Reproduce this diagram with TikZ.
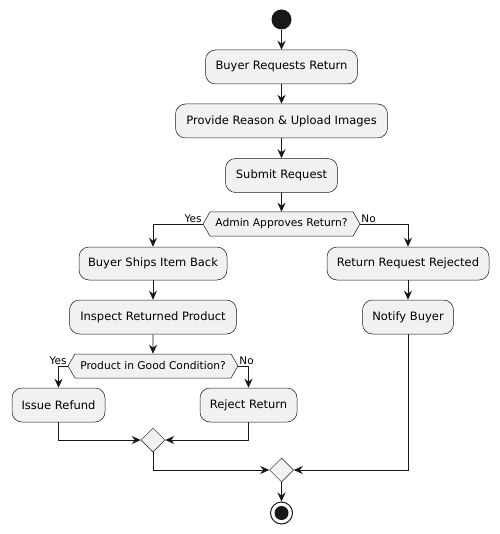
\documentclass[tikz,border=0pt]{standalone}
\usepackage{fontspec}
\setmainfont{DejaVu Sans}
\usetikzlibrary{arrows.meta,shapes.symbols,shapes.geometric}
\definecolor{bfill}{HTML}{F1F1F1}
\definecolor{bline}{HTML}{181818}
\begin{document}
\begin{tikzpicture}[x=1pt,y=-1pt,
  act/.style={draw=bline, line width=0.5pt, fill=bfill, rounded corners=10pt, minimum height=34pt, inner sep=0pt, font=\fontsize{11.5}{13}\selectfont},
  dec/.style={signal, signal to=west and east, signal pointer angle=120, draw=bline, fill=bfill, line width=0.5pt, minimum height=24pt, inner sep=0pt, font=\fontsize{10.7}{12}\selectfont},
  merge/.style={diamond, draw=bline, fill=bfill, line width=0.5pt, minimum size=24pt, inner sep=0pt},
  flow/.style={draw=bline, line width=0.8pt, -{Stealth[length=9pt,width=8pt,inset=3pt]}},
  lbl/.style={font=\fontsize{10.5}{12}\selectfont, inner sep=1pt}]
\useasboundingbox (0,0) rectangle (499,534);
\node[circle, fill=bline, minimum size=20pt, inner sep=0pt] (start) at (281.5,19.5) {};
\node[act, minimum width=152pt] (b1) at (281.5,67) {Buyer Requests Return};
\node[act, minimum width=212pt] (b2) at (281.5,121) {Provide Reason \& Upload Images};
\node[act, minimum width=112pt] (b3) at (281.5,175.5) {Submit Request};
\node[dec, minimum width=157pt] (d1) at (281.5,224) {Admin Approves Return?};
\node[act, minimum width=148pt, minimum height=33pt] (b4) at (153,263.5) {Buyer Ships Item Back};
\node[act, minimum width=167pt] (b5) at (153,317) {Inspect Returned Product};
\node[act, minimum width=162pt, minimum height=33pt] (b6) at (408,263.5) {Return Request Rejected};
\node[act, minimum width=91pt] (b7) at (408,317) {Notify Buyer};
\node[dec, minimum width=170pt] (d2) at (153,366) {Product in Good Condition?};
\node[act, minimum width=93pt] (b8) at (58.5,405) {Issue Refund};
\node[act, minimum width=97pt] (b9) at (248.5,405) {Reject Return};
\node[merge] (m1) at (153,440) {};
\node[merge] (m2) at (281.5,470) {};
\node[circle, draw=bline, line width=1pt, fill=white, minimum size=22pt, inner sep=0pt] (end) at (281.5,513) {};
\fill[bline] (end.center) circle[radius=7pt];
\node[lbl, anchor=south east] (y1) at (d1.west) {Yes};
\node[lbl, anchor=south west] (n1) at (d1.east) {No};
\node[lbl, anchor=south east] (y2) at (d2.west) {Yes};
\node[lbl, anchor=south west] (n2) at (d2.east) {No};
\draw[flow] (start) -- (b1);
\draw[flow] (b1) -- (b2);
\draw[flow] (b2) -- (b3);
\draw[flow] (b3) -- (d1);
\draw[flow] (d1.west) -| (b4.north);
\draw[flow] (d1.east) -| (b6.north);
\draw[flow] (b4) -- (b5);
\draw[flow] (b5) -- (d2);
\draw[flow] (b6) -- (b7);
\draw[flow] (d2.west) -| (b8.north);
\draw[flow] (d2.east) -| (b9.north);
\draw[flow] (b8.south) |- (m1.west);
\draw[flow] (b9.south) |- (m1.east);
\draw[flow] (m1.south) |- (m2.west);
\draw[flow] (b7.south) |- (m2.east);
\draw[flow] (m2) -- (end);
\end{tikzpicture}
\end{document}
